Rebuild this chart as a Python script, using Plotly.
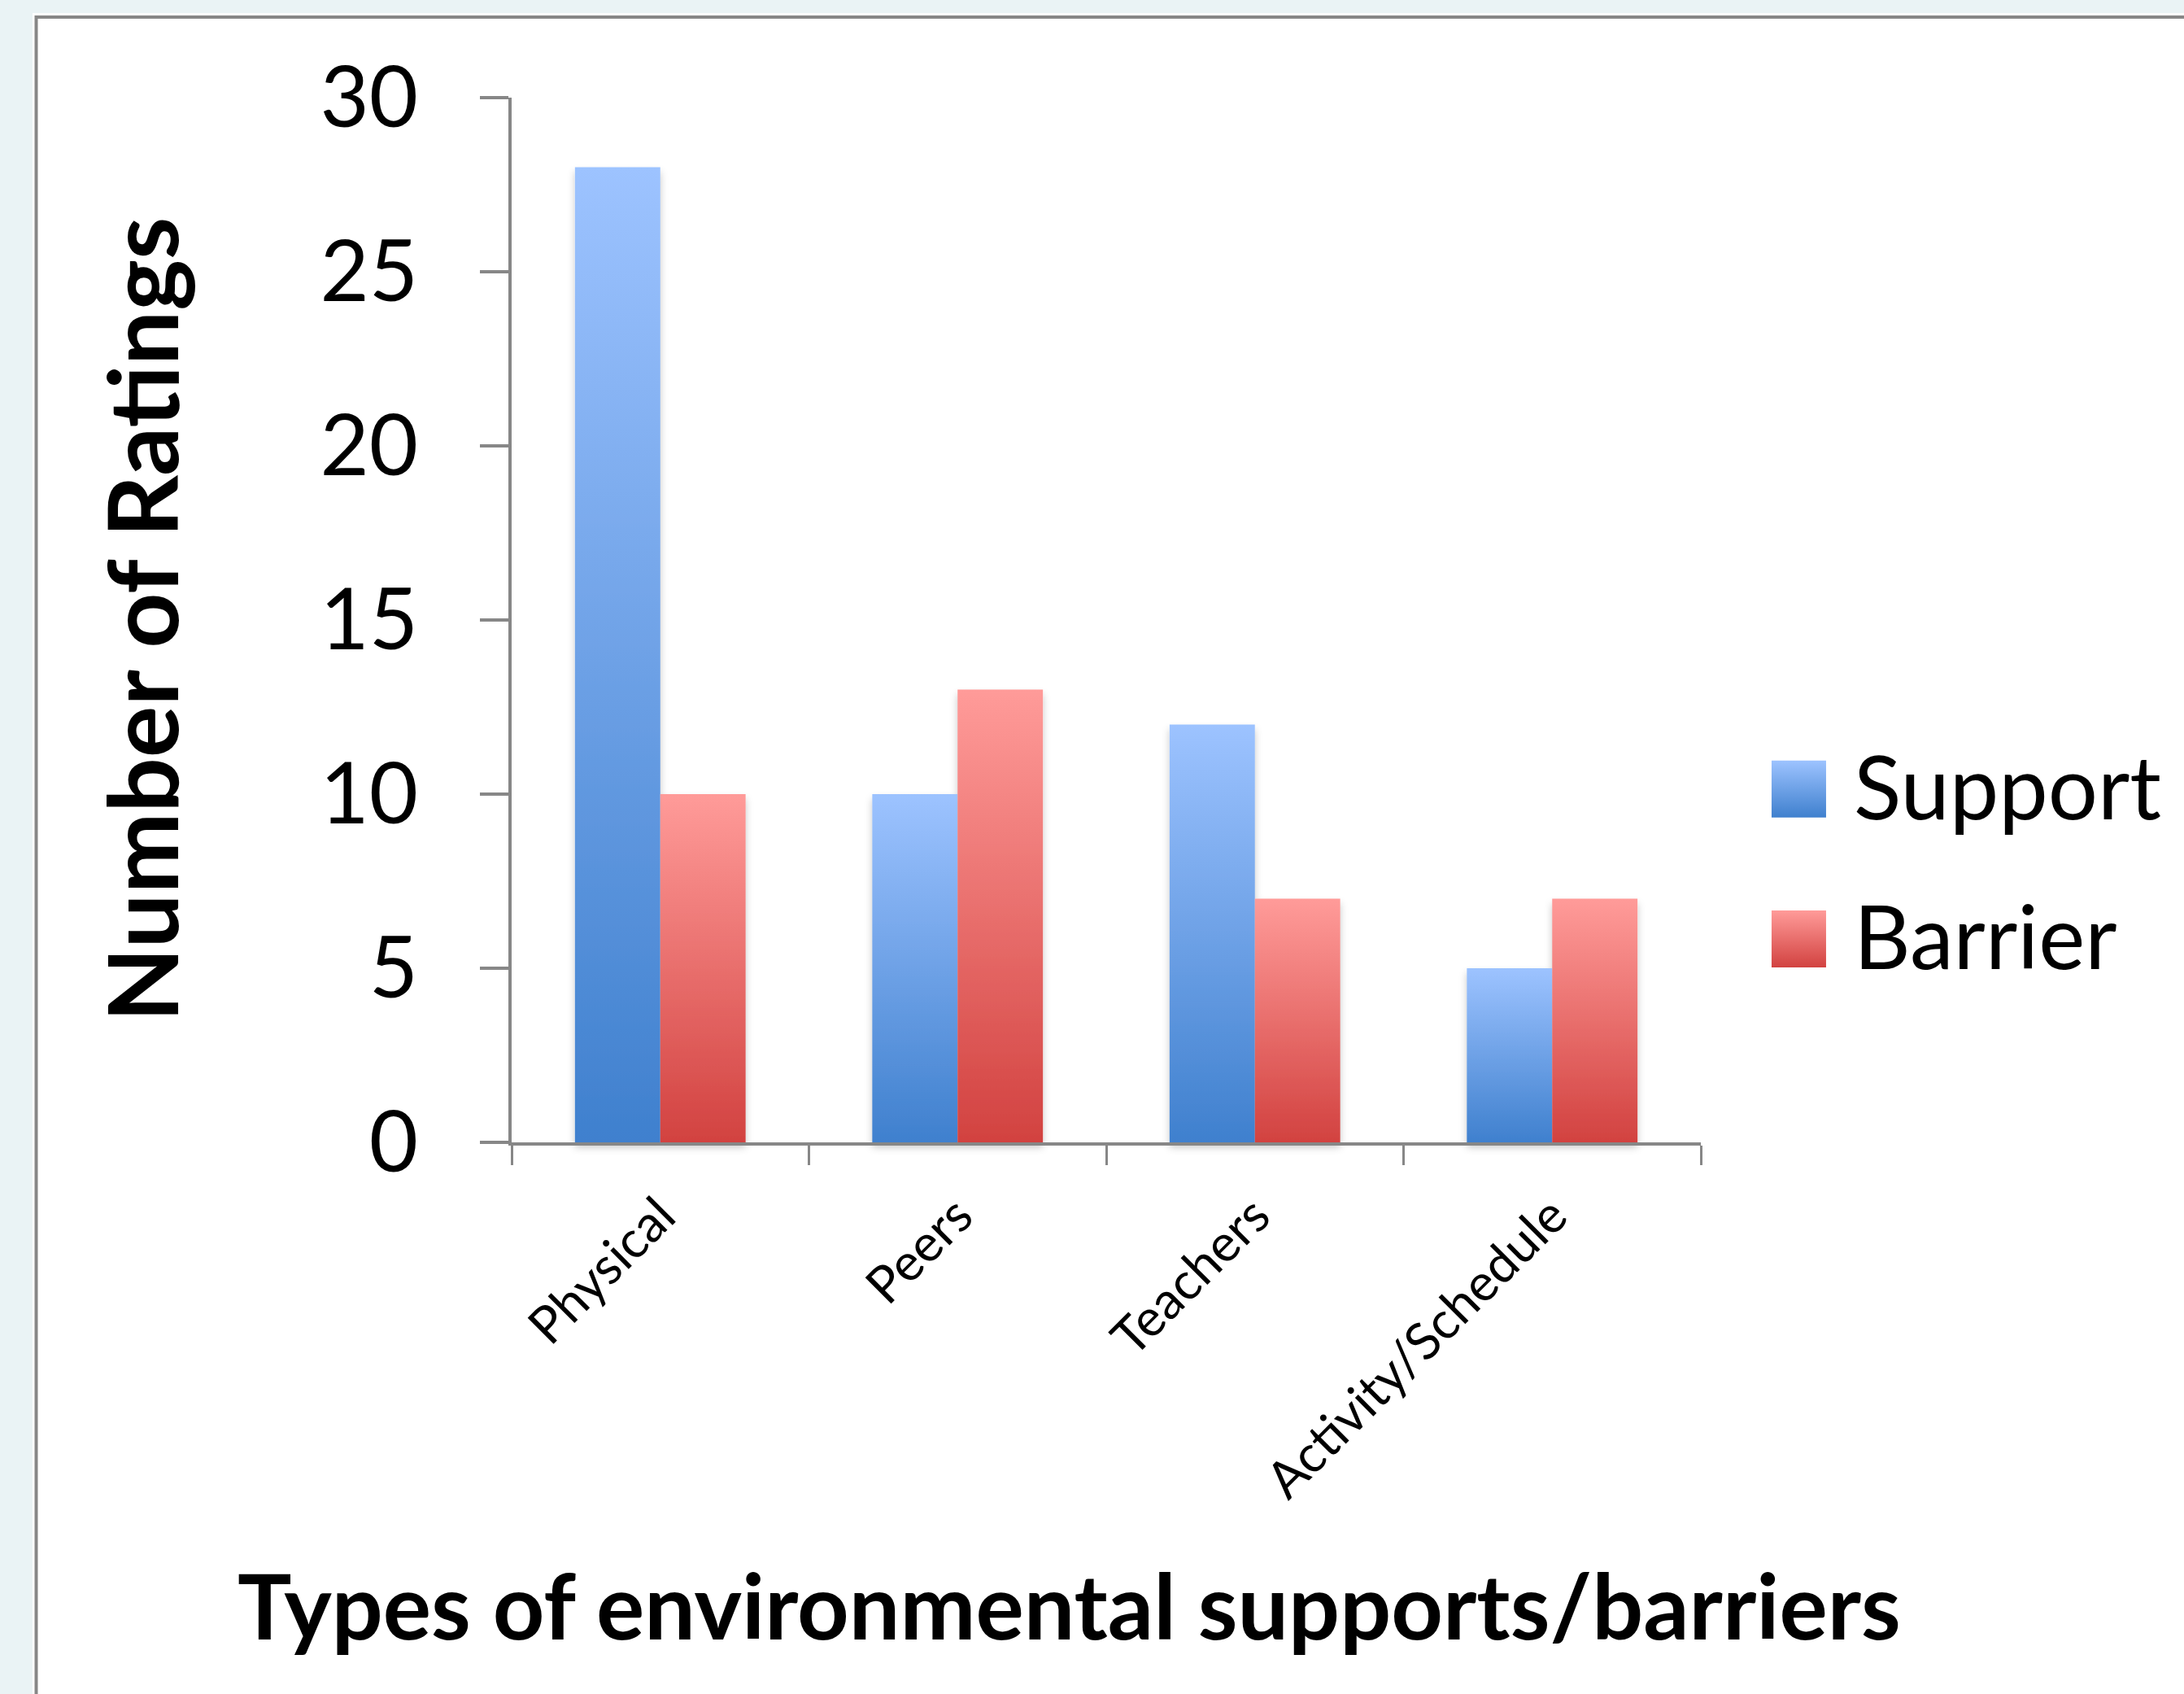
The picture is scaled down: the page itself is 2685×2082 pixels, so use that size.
import plotly.graph_objects as go

# Ratings per environment type
categories = ["Physical", "Peers", "Teachers", "Activity/Schedule"]
support = [28, 10, 12, 5]
barrier = [10, 13, 7, 7]
y_ticks = [0, 5, 10, 15, 20, 25, 30]

# Canvas and plot-area geometry (pixels)
W, H = 2685, 2082
PLOT_L, PLOT_R, PLOT_T, PLOT_B = 629, 2091, 120, 1404


def px_x(x):
    return (x - PLOT_L) / (PLOT_R - PLOT_L)


def px_y(y):
    return (PLOT_B - y) / (PLOT_B - PLOT_T)


FONT = "Lato, 'Open Sans', sans-serif"
AXIS_GREY = "#878787"

fig = go.Figure()
fig.add_trace(go.Bar(
    name="Support", x=categories, y=support, legendgroup="support",
    marker=dict(color="#6FA1E6", line=dict(width=0)), cliponaxis=False,
))
fig.add_trace(go.Bar(
    name="Barrier", x=categories, y=barrier, legendgroup="barrier",
    marker=dict(color="#E87270", line=dict(width=0)), cliponaxis=False,
))

shapes = [
    # white slide panel with its grey frame
    dict(type="rect", xref="paper", yref="paper", layer="below",
         x0=px_x(40), x1=px_x(2800), y0=px_y(16), y1=px_y(2200),
         fillcolor="white", line=dict(width=0)),
    dict(type="rect", xref="paper", yref="paper", layer="below",
         x0=px_x(44.5), x1=px_x(2800), y0=px_y(21), y1=px_y(2200),
         fillcolor="white", line=dict(color=AXIS_GREY, width=4)),
]

annotations = [
    dict(text="Number of Ratings", textangle=-90, xref="paper", yref="paper",
         x=px_x(173), y=px_y(762), xanchor="center", yanchor="middle",
         showarrow=False, font=dict(family=FONT, size=119, weight="bold", color="black")),
    dict(text="Types of environmental supports/barriers", xref="paper", yref="paper",
         x=px_x(1314), y=px_y(1972), xanchor="center", yanchor="middle",
         showarrow=False, font=dict(family=FONT, size=111, weight="bold", color="black")),
]

fig.update_layout(
    width=W, height=H,
    margin=dict(l=PLOT_L, r=W - PLOT_R, t=PLOT_T, b=H - PLOT_B, pad=0),
    paper_bgcolor="#EAF3F5", plot_bgcolor="white",
    barmode="group", bargap=0.426, bargroupgap=0,
    font=dict(family=FONT, color="black"),
    hovermode=False,
    xaxis=dict(
        type="category", showline=True, linecolor=AXIS_GREY, linewidth=4,
        ticks="outside", tickson="boundaries", ticklen=24, tickwidth=3, tickcolor=AXIS_GREY,
        tickangle=-45, tickfont=dict(size=63), ticklabelstandoff=24,
        showgrid=False, zeroline=False,
    ),
    yaxis=dict(
        range=[0, 30], tickvals=y_ticks, showline=True, linecolor=AXIS_GREY, linewidth=4,
        ticks="outside", ticklen=35, tickwidth=4, tickcolor=AXIS_GREY,
        tickfont=dict(size=104), ticklabelstandoff=55, showgrid=False, zeroline=False,
    ),
    legend=dict(
        xref="container", yref="container", x=0.7985, y=0.5735,
        xanchor="left", yanchor="top", font=dict(size=108),
        itemwidth=125, traceorder="grouped", tracegroupgap=41,
        bgcolor="rgba(0,0,0,0)", borderwidth=0,
    ),
    shapes=shapes,
    annotations=annotations,
)

# Vertical light-to-dark fills for bars and legend swatches, plus a soft bar shadow
post_js = """
var gd = document.getElementById('{plot_id}');
var NS = 'http://www.w3.org/2000/svg';
var fills = [['supportFill', '#9DC3FF', '#3F80CE'], ['barrierFill', '#FF9B99', '#D24240']];
function ensureDefs() {
  if (document.getElementById('supportFill')) return;
  var svg = gd.querySelector('svg.main-svg');
  var defs = svg.querySelector('defs');
  if (!defs) { defs = document.createElementNS(NS, 'defs'); svg.insertBefore(defs, svg.firstChild); }
  fills.forEach(function (f) {
    var g = document.createElementNS(NS, 'linearGradient');
    g.setAttribute('id', f[0]);
    g.setAttribute('x1', '0'); g.setAttribute('y1', '0');
    g.setAttribute('x2', '0'); g.setAttribute('y2', '1');
    [[0, f[1]], [1, f[2]]].forEach(function (s) {
      var stop = document.createElementNS(NS, 'stop');
      stop.setAttribute('offset', s[0]);
      stop.setAttribute('stop-color', s[1]);
      g.appendChild(stop);
    });
    defs.appendChild(g);
  });
  var flt = document.createElementNS(NS, 'filter');
  flt.setAttribute('id', 'barShadow');
  flt.setAttribute('x', '-10%'); flt.setAttribute('y', '-10%');
  flt.setAttribute('width', '120%'); flt.setAttribute('height', '120%');
  var ds = document.createElementNS(NS, 'feDropShadow');
  ds.setAttribute('dx', '0'); ds.setAttribute('dy', '6'); ds.setAttribute('stdDeviation', '5');
  ds.setAttribute('flood-color', '#000'); ds.setAttribute('flood-opacity', '0.22');
  flt.appendChild(ds);
  defs.appendChild(flt);
}
function paint() {
  ensureDefs();
  gd.querySelectorAll('.barlayer .trace').forEach(function (t, i) {
    t.querySelectorAll('path').forEach(function (p) { p.style.fill = 'url(#' + fills[i % 2][0] + ')'; });
  });
  var layer = gd.querySelector('.barlayer');
  if (layer) layer.setAttribute('filter', 'url(#barShadow)');
  gd.querySelectorAll('g.legend g.traces').forEach(function (t, i) {
    t.querySelectorAll('g.legendpoints path').forEach(function (p) {
      p.style.fill = 'url(#' + fills[i % 2][0] + ')';
      p.setAttribute('d', 'M33.5,40H-33.5V-30H33.5Z');
    });
  });
}
paint();
setTimeout(paint, 0);
gd.on('plotly_afterplot', paint);
"""

fig.write_html("out.html", post_script=post_js)
